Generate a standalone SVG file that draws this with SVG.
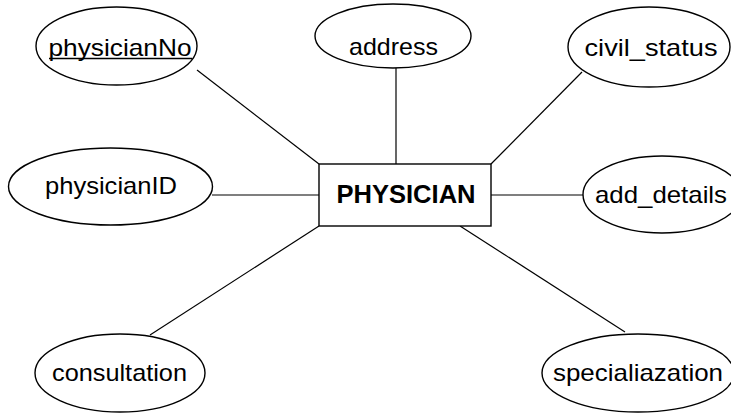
<svg xmlns="http://www.w3.org/2000/svg" width="731" height="413" viewBox="0 0 731 413">
<style>
.attr ellipse{fill:#fff;stroke:#000;stroke-width:1.4}
.attr text{font-family:"Liberation Sans",Arial,sans-serif;font-size:24px;fill:#000;text-anchor:middle}
#connectors line{stroke:#000;stroke-width:1.2}
#entity rect{fill:#fff;stroke:#000;stroke-width:1.4}
#entity text{font-family:"Liberation Sans",Arial,sans-serif;font-size:25px;font-weight:bold;fill:#000;text-anchor:middle}
</style>
<rect width="731" height="413" fill="#fff"/>
<g id="connectors">
<line x1="197" y1="70" x2="319" y2="164"/>
<line x1="396" y1="68" x2="396" y2="164"/>
<line x1="582" y1="72" x2="491" y2="164"/>
<line x1="212" y1="195" x2="319" y2="195"/>
<line x1="491" y1="195" x2="583" y2="195"/>
<line x1="150" y1="335" x2="319" y2="226"/>
<line x1="625" y1="332" x2="460" y2="226"/>
</g>
<g id="entity">
<rect x="319" y="164" width="172" height="62"/>
<text x="406" y="203" textLength="139" lengthAdjust="spacingAndGlyphs">PHYSICIAN</text>
</g>
<g id="physicianNo" class="attr">
<ellipse cx="116.5" cy="46" rx="80.5" ry="39"/>
<text x="120" y="56" textLength="143" lengthAdjust="spacingAndGlyphs">physicianNo</text>
<line x1="49" y1="58.5" x2="192" y2="58.5" stroke="#000" stroke-width="1.3"/>
</g>
<g id="address" class="attr">
<ellipse cx="393" cy="36" rx="78" ry="32"/>
<text x="393.5" y="55" textLength="89" lengthAdjust="spacingAndGlyphs">address</text>
</g>
<g id="civil_status" class="attr">
<ellipse cx="649" cy="47" rx="81" ry="40"/>
<text x="651" y="56" textLength="133" lengthAdjust="spacingAndGlyphs">civil_status</text>
</g>
<g id="physicianID" class="attr">
<ellipse cx="110.5" cy="186.5" rx="102" ry="38.5"/>
<text x="111" y="194" textLength="132" lengthAdjust="spacingAndGlyphs">physicianID</text>
</g>
<g id="add_details" class="attr">
<ellipse cx="662" cy="194.5" rx="79" ry="38.5"/>
<text x="661" y="203" textLength="132" lengthAdjust="spacingAndGlyphs">add_details</text>
</g>
<g id="consultation" class="attr">
<ellipse cx="120" cy="373" rx="85" ry="39"/>
<text x="119.5" y="381" textLength="135" lengthAdjust="spacingAndGlyphs">consultation</text>
</g>
<g id="specialiazation" class="attr">
<ellipse cx="638" cy="373" rx="96" ry="39"/>
<text x="638" y="381" textLength="170" lengthAdjust="spacingAndGlyphs">specialiazation</text>
</g>
</svg>
